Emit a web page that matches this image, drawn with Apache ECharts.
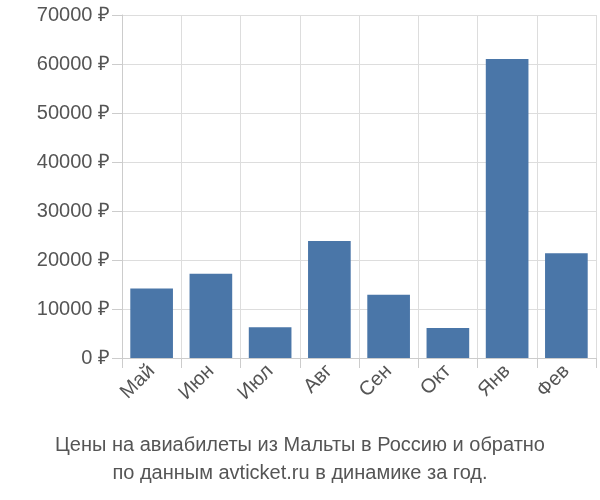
<!DOCTYPE html>
<html><head><meta charset="utf-8">
<script src="https://cdn.jsdelivr.net/npm/echarts@6/dist/echarts.min.js"></script>
<style>html,body{margin:0;padding:0;background:#fff}#c{width:600px;height:500px}</style>
</head><body><div id="c"></div>
<script>
const categories = ['Май','Июн','Июл','Авг','Сен','Окт','Янв','Фев'];
const values = [14200, 17200, 6300, 23900, 12900, 6100, 61000, 21400];
const titleLines = ['Цены на авиабилеты из Мальты в Россию и обратно','по данным avticket.ru в динамике за год.'];
const chart = echarts.init(document.getElementById('c'));
chart.setOption({
  animation:false,
  title:{text:titleLines.join('\n'),left:'center',bottom:8,
    textStyle:{fontFamily:'Liberation Sans',fontSize:20,fontWeight:'normal',color:'#555',lineHeight:28}},
  grid:{left:122,right:4,top:15,bottom:142},
  xAxis:{type:'category',data:categories,
    axisLine:{lineStyle:{color:'#ccc'}},
    axisTick:{show:true,length:10,lineStyle:{color:'#ccc'}},
    splitLine:{show:true,lineStyle:{color:'#ddd'}},
    axisLabel:{rotate:45,fontFamily:'Liberation Sans',fontSize:20,color:'#555',margin:10}},
  yAxis:{type:'value',min:0,max:70000,interval:10000,
    axisLine:{show:true,lineStyle:{color:'#ccc'}},
    axisTick:{show:true,length:10,lineStyle:{color:'#ccc'}},
    splitLine:{lineStyle:{color:'#ddd'}},
    axisLabel:{formatter:v=>v+' ₽',fontFamily:'Liberation Sans',fontSize:20,color:'#555',margin:12}},
  series:[{type:'bar',data:values,barWidth:'72%',itemStyle:{color:'#4a76a8'}}]
});
</script></body></html>
